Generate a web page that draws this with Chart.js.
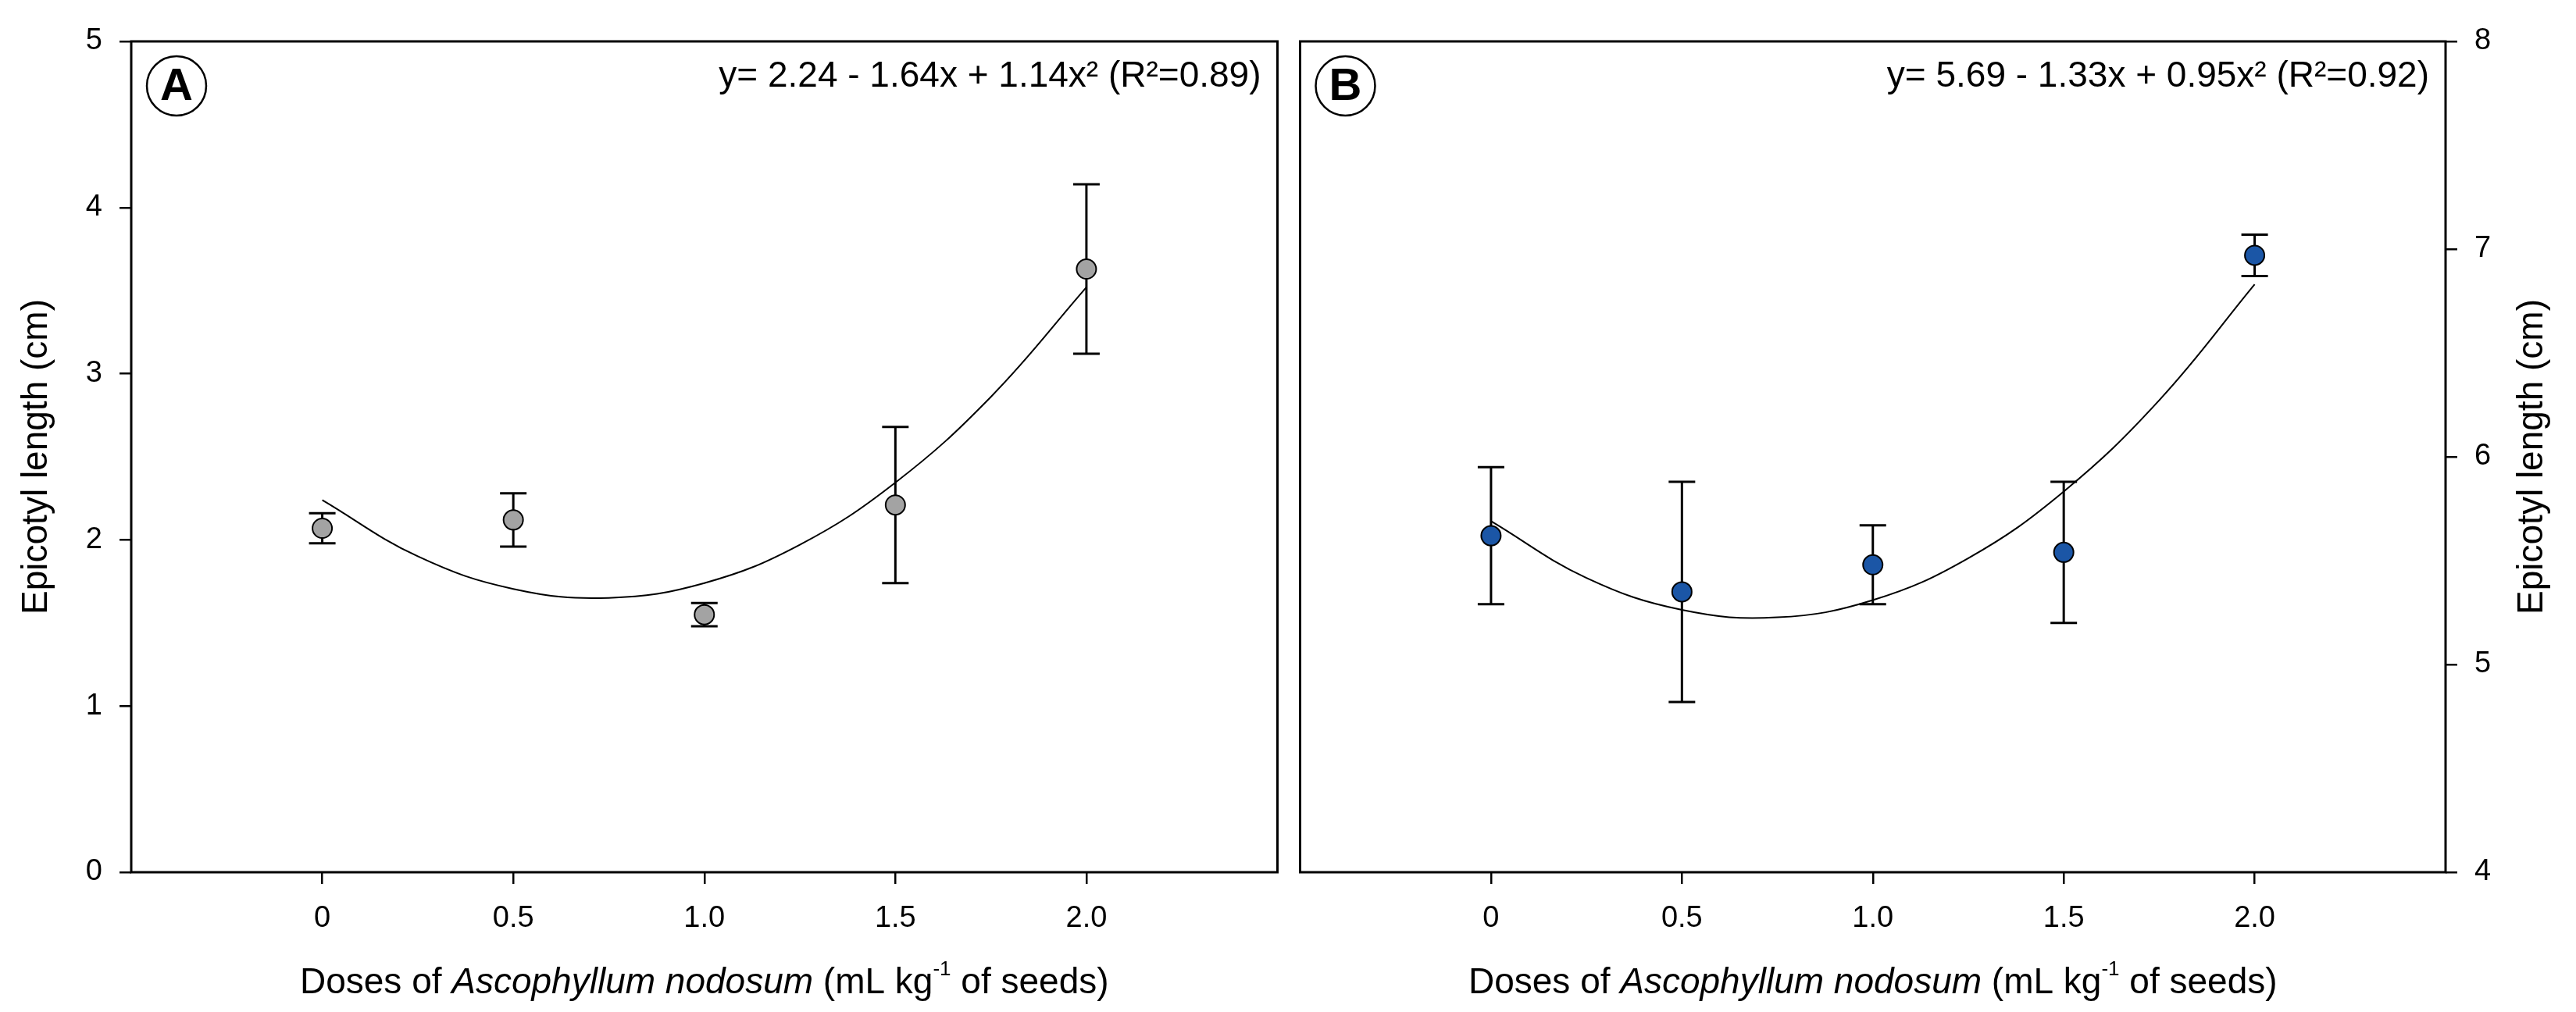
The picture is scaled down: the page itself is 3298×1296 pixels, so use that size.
<!DOCTYPE html>
<html>
<head>
<meta charset="utf-8">
<script src="https://cdn.jsdelivr.net/npm/chart.js@4.4.1/dist/chart.umd.min.js"></script>
<style>
  body { margin: 0; background: #fff; }
  .wrap { position: absolute; top: 0; height: 1296px; }
  #wrapA { left: 0; width: 1650px; }
  #wrapB { left: 1650px; width: 1648px; }
</style>
</head>
<body>
<div class="wrap" id="wrapA"><canvas id="chartA" width="1650" height="1296"></canvas></div>
<div class="wrap" id="wrapB"><canvas id="chartB" width="1648" height="1296"></canvas></div>
<script>
// Data
const doses = [0, 0.5, 1.0, 1.5, 2.0];
const doseLabels = ["0", "0.5", "1.0", "1.5", "2.0"];

const epicotylA = [2.07, 2.12, 1.55, 2.21, 3.63];
const errorA = [0.09, 0.16, 0.07, 0.47, 0.51];
const epicotylB = [5.62, 5.35, 5.48, 5.54, 6.97];
const errorB = [0.33, 0.53, 0.19, 0.34, 0.10];

// fitted curves
const fitX = [0, 0.25, 0.5, 0.75, 1.0, 1.25, 1.5, 1.75, 2.0];
const fitA = [2.240, 1.901, 1.705, 1.651, 1.740, 1.971, 2.345, 2.861, 3.520];
const fitB = [5.690, 5.417, 5.263, 5.227, 5.310, 5.512, 5.833, 6.272, 6.830];

const ticksA = [0, 1, 2, 3, 4, 5];
const ticksB = [4, 5, 6, 7, 8];

const equationA = "y= 2.24 - 1.64x + 1.14x\u00B2 (R\u00B2=0.89)";
const equationB = "y= 5.69 - 1.33x + 0.95x\u00B2 (R\u00B2=0.92)";
const yTitle = "Epicotyl length (cm)";

const FONT = '"Liberation Sans", Arial, sans-serif';
const tickFont = { family: FONT, size: 38 };

// error bars, frame, labels
const panelPlugin = {
    id: "panel",
    beforeDatasetsDraw(chart, args, opts) {
        const ctx = chart.ctx;
        const xs = chart.scales.x, ys = chart.scales.y;
        const ds = chart.data.datasets[0];
        ctx.save();
        ctx.strokeStyle = "#000";
        ctx.lineWidth = 3;
        ds.data.forEach((p, i) => {
            const e = ds.errors[i];
            const px = xs.getPixelForValue(p.x);
            const top = ys.getPixelForValue(p.y + e);
            const bot = ys.getPixelForValue(p.y - e);
            ctx.beginPath();
            ctx.moveTo(px, top); ctx.lineTo(px, bot);
            ctx.moveTo(px - 17, top); ctx.lineTo(px + 17, top);
            ctx.moveTo(px - 17, bot); ctx.lineTo(px + 17, bot);
            ctx.stroke();
        });
        ctx.restore();
    },
    afterDraw(chart, args, opts) {
        const ctx = chart.ctx;
        const a = chart.chartArea;
        ctx.save();
        // frame
        ctx.strokeStyle = "#000";
        ctx.lineWidth = 3;
        ctx.strokeRect(a.left, a.top, a.right - a.left, a.bottom - a.top);

        // circled letter
        ctx.lineWidth = 2.5;
        ctx.beginPath();
        ctx.arc(a.left + 58, a.top + 57, 38, 0, Math.PI * 2);
        ctx.stroke();
        ctx.fillStyle = "#000";
        ctx.font = "bold 58px " + FONT;
        ctx.textAlign = "center";
        ctx.textBaseline = "alphabetic";
        ctx.fillText(opts.letter, a.left + 58, a.top + 75);

        // equation
        ctx.font = "46px " + FONT;
        ctx.textAlign = "right";
        ctx.fillText(opts.equation, a.right - 21, a.top + 58);

        // y title
        ctx.save();
        ctx.font = "46px " + FONT;
        ctx.textAlign = "center";
        ctx.translate(opts.yTitleX, (a.top + a.bottom) / 2);
        ctx.rotate(-Math.PI / 2);
        ctx.fillText(yTitle, 0, 0);
        ctx.restore();

        // x title with italic name and superscript
        const parts = [
            { t: "Doses of ", f: "46px " + FONT, dy: 0 },
            { t: "Ascophyllum nodosum", f: "italic 46px " + FONT, dy: 0 },
            { t: " (mL kg", f: "46px " + FONT, dy: 0 },
            { t: "-1", f: "26px " + FONT, dy: -23 },
            { t: " of seeds)", f: "46px " + FONT, dy: 0 }
        ];
        let total = 0;
        parts.forEach(p => { ctx.font = p.f; p.w = ctx.measureText(p.t).width; total += p.w; });
        let x = (a.left + a.right) / 2 - total / 2;
        ctx.textAlign = "left";
        parts.forEach(p => {
            ctx.font = p.f;
            ctx.fillText(p.t, x, 1272 + p.dy);
            x += p.w;
        });
        ctx.restore();
    }
};

function makeChart(id, values, errors, fit, yTicks, fillColor, side, letter, equation) {
    const gridOpts = {
        display: true,
        drawOnChartArea: false,
        drawTicks: true,
        tickLength: 15,
        color: "#000",
        lineWidth: 2.5
    };
    const isLeft = side === "left";
    return new Chart(document.getElementById(id), {
        data: {
            datasets: [
                {
                    type: "scatter",
                    data: doses.map((d, i) => ({ x: d, y: values[i] })),
                    errors: errors,
                    backgroundColor: fillColor,
                    borderColor: "#000",
                    borderWidth: 2,
                    pointRadius: 12.5,
                    pointHoverRadius: 12.5
                },
                {
                    type: "line",
                    data: fitX.map((d, i) => ({ x: d, y: fit[i] })),
                    borderColor: "#000",
                    borderWidth: 2,
                    pointRadius: 0,
                    tension: 0.4,
                    fill: false
                }
            ]
        },
        options: {
            responsive: false,
            animation: false,
            devicePixelRatio: 1,
            layout: {
                padding: isLeft ? { left: 0, right: 5, top: 53, bottom: 0 }
                                : { left: 3, right: 0, top: 53, bottom: 0 }
            },
            plugins: {
                legend: { display: false },
                tooltip: { enabled: false },
                panel: {
                    letter: letter,
                    equation: equation,
                    yTitleX: isLeft ? 60 : 1605
                }
            },
            scales: {
                x: {
                    type: "linear",
                    min: -0.5,
                    max: 2.5,
                    afterBuildTicks: s => { s.ticks = doses.map(v => ({ value: v })); },
                    ticks: {
                        callback: v => doseLabels[doses.indexOf(v)],
                        font: tickFont,
                        color: "#000",
                        padding: 22,
                        maxRotation: 0,
                        autoSkip: false
                    },
                    grid: gridOpts,
                    border: { display: false },
                    afterFit: s => { s.height = 179; s.paddingLeft = 0; s.paddingRight = 0; }
                },
                y: {
                    type: "linear",
                    position: side,
                    min: yTicks[0],
                    max: yTicks[yTicks.length - 1],
                    afterBuildTicks: s => { s.ticks = yTicks.map(v => ({ value: v })); },
                    ticks: {
                        font: tickFont,
                        color: "#000",
                        padding: 22
                    },
                    grid: gridOpts,
                    border: { display: false },
                    afterFit: s => {
                        s.width = isLeft ? 168 : 167;
                        s.paddingTop = 0; s.paddingBottom = 0;
                    }
                }
            }
        },
        plugins: [panelPlugin]
    });
}

makeChart("chartA", epicotylA, errorA, fitA, ticksA, "#a3a3a3", "left", "A", equationA);
makeChart("chartB", epicotylB, errorB, fitB, ticksB, "#1b56a6", "right", "B", equationB);
</script>
</body>
</html>
